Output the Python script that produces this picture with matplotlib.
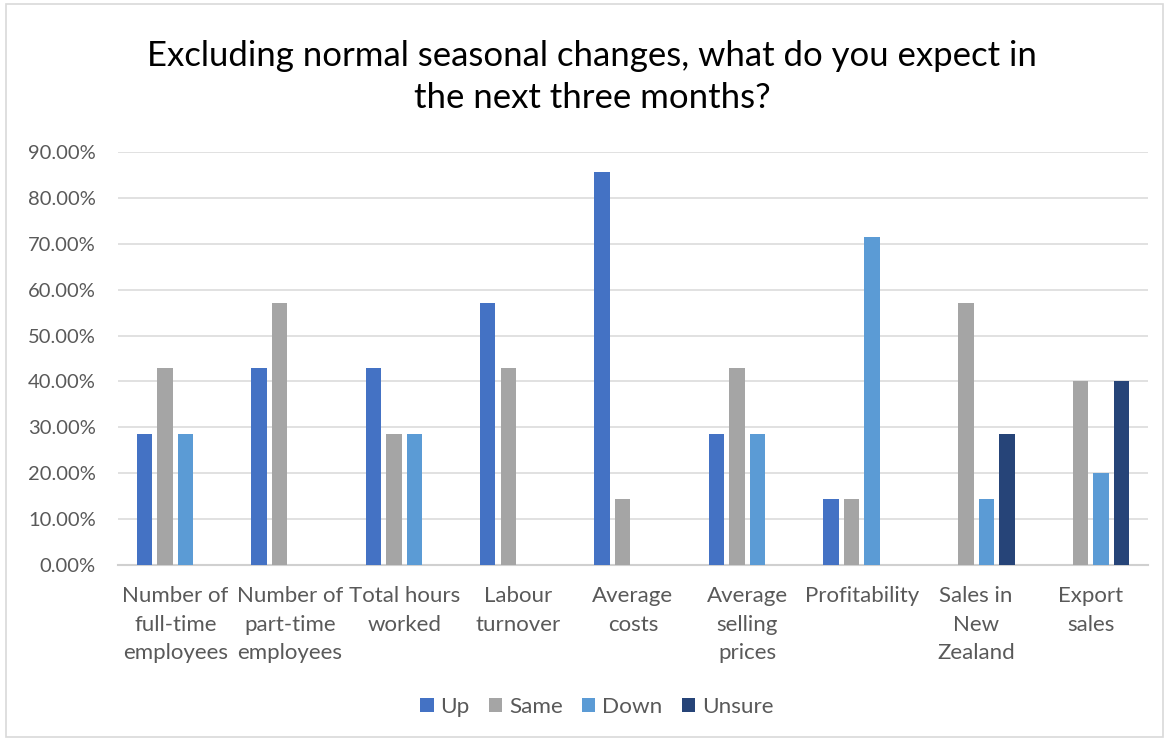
import numpy as np
import matplotlib.pyplot as plt
from matplotlib.patches import Rectangle

categories = ["Number of\nfull-time\nemployees", "Number of\npart-time\nemployees",
              "Total hours\nworked", "Labour\nturnover", "Average\ncosts",
              "Average\nselling\nprices", "Profitability", "Sales in\nNew\nZealand",
              "Export\nsales"]
series_names = ["Up", "Same", "Down", "Unsure"]
up = [28.57, 42.86, 42.86, 57.14, 85.71, 28.57, 14.29, 0, 0]
same = [42.86, 57.14, 28.57, 42.86, 14.29, 42.86, 14.29, 57.14, 40.0]
down = [28.57, 0, 28.57, 0, 0, 28.57, 71.43, 14.29, 20.0]
unsure = [0, 0, 0, 0, 0, 0, 0, 28.57, 40.0]
colors = ["#4472C4", "#A5A5A5", "#5B9BD5", "#264478"]

plt.rcParams['font.family'] = ['Lato', 'DejaVu Sans']

fig = plt.figure(figsize=(11.7, 7.4), dpi=100)
fig.patches.append(Rectangle((0.005, 0.004), 0.989, 0.99, transform=fig.transFigure,
                             fill=False, edgecolor="#D9D9D9", linewidth=1.2))
ax = fig.add_axes([0.101, 0.2365, 0.88, 0.558])

x = np.arange(len(categories))
slot = 0.18
bw = 0.135
for i, (name, vals) in enumerate(zip(series_names, [up, same, down, unsure])):
    ax.bar(x + (i - 1.5) * slot, np.array(vals) / 100, width=bw, color=colors[i],
           label=name, zorder=3)

ax.set_xlim(-0.5, len(categories) - 0.5)
ax.set_ylim(0, 0.9)
ax.set_yticks(np.arange(0, 0.91, 0.1))
ax.set_yticklabels([f"{v * 100:.2f}%" for v in np.arange(0, 0.91, 0.1)])
ax.set_xticks(x)
ax.set_xticklabels(categories, linespacing=1.55)
ax.tick_params(axis='both', length=0, colors="#595959")
ax.tick_params(axis='y', labelsize=14.5, pad=16)
ax.tick_params(axis='x', labelsize=16, pad=15)
ax.grid(axis='y', color="#D9D9D9", linewidth=1.1, zorder=0)
for s in ["top", "right", "left"]:
    ax.spines[s].set_visible(False)
ax.spines["bottom"].set_color("#D0D0D0")
ax.spines["bottom"].set_linewidth(1.5)

fig.text(0.506, 0.896, "Excluding normal seasonal changes, what do you expect in\nthe next three months?",
         ha="center", va="center", fontsize=25, color="black", linespacing=1.38)

fig.legend(loc="center", bbox_to_anchor=(0.51, 0.045), ncol=4, frameon=False,
           fontsize=16.2, handlelength=0.6, handleheight=0.6, handletextpad=0.3,
           columnspacing=0.85, labelcolor="#595959")

fig.savefig("out.png", dpi=100)
